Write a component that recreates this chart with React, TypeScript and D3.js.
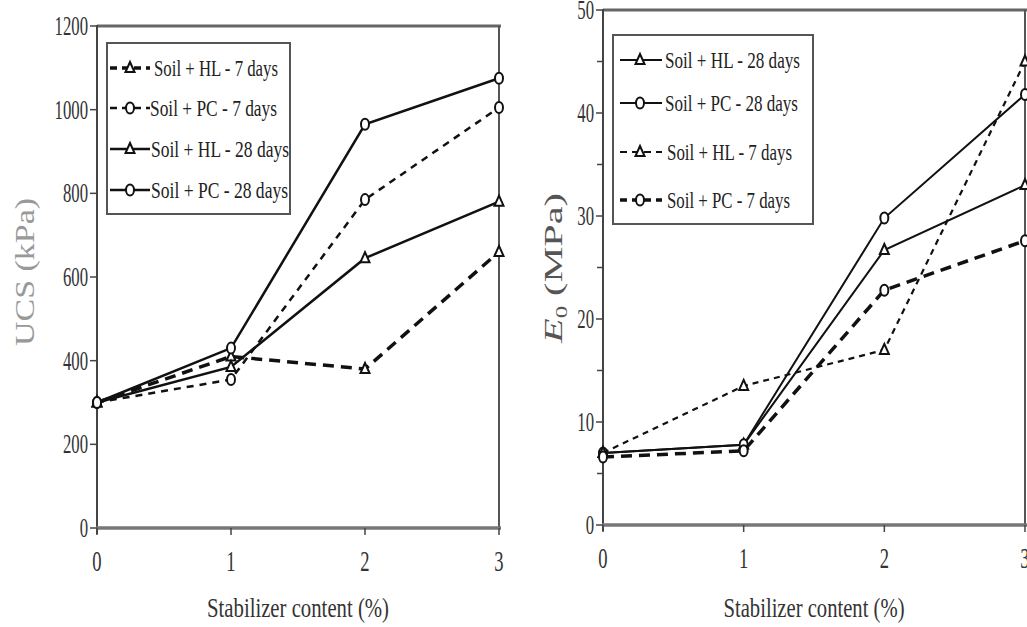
import React from 'react';
import * as d3 from 'd3';

const stabilizer = [0, 1, 2, 3];
const xTicks = [0, 1, 2, 3];

const ucsHL7 = [300, 410, 380, 660];
const ucsPC7 = [300, 355, 785, 1005];
const ucsHL28 = [300, 385, 645, 780];
const ucsPC28 = [300, 430, 965, 1075];
const ucsTicks = [0, 200, 400, 600, 800, 1000, 1200];

const e0HL28 = [7.0, 7.8, 26.7, 33.0];
const e0PC28 = [7.0, 7.8, 29.8, 41.8];
const e0HL7 = [7.0, 13.5, 17.0, 45.0];
const e0PC7 = [6.6, 7.2, 22.8, 27.6];
const e0Ticks = [0, 10, 20, 30, 40, 50];
const e0Minor = [5, 15, 25, 35, 45];

const leftNames = ['Soil + HL - 7 days', 'Soil + PC - 7 days', 'Soil + HL - 28 days', 'Soil + PC - 28 days'];
const rightNames = ['Soil + HL - 28 days', 'Soil + PC - 28 days', 'Soil + HL - 7 days', 'Soil + PC - 7 days'];

type Marker = 'tri' | 'circ';
interface Series { name: string; values: number[]; marker: Marker; dash: string; width: number; }

const FONT = '"Liberation Serif", "DejaVu Serif", serif';
const INK = '#111';
const SX = 0.62;

function MarkerShape({ x, y, m, size = 1 }: { x: number; y: number; m: Marker; size?: number }) {
  if (m === 'circ') {
    return <ellipse cx={x} cy={y} rx={4 * size} ry={5.5 * size} fill="#fff" stroke={INK} strokeWidth={2} />;
  }
  const h = 10 * size, w = 9 * size;
  const p = `M${x},${y - h * 0.6} L${x + w / 2},${y + h * 0.4} L${x - w / 2},${y + h * 0.4} Z`;
  return <path d={p} fill="#fff" stroke={INK} strokeWidth={2} />;
}

function CondText({ x, y, anchor, size, children }: { x: number; y: number; anchor: string; size: number; children: React.ReactNode }) {
  return (
    <g transform={`translate(${x},${y}) scale(${SX},1)`}>
      <text x={0} y={0} textAnchor={anchor} fontFamily={FONT} fontSize={size} fill="#333">{children}</text>
    </g>
  );
}

interface PanelProps {
  xRange: [number, number];
  yDomain: [number, number];
  yRange: [number, number];
  ticks: number[];
  minor: number[];
  series: Series[];
  legendBox: { x: number; y: number; w: number; h: number };
  legendRows: number[];
  legendSample: [number, number, number];
  legendText: { x: number; len: number }[];
  yLabel: React.ReactNode;
  yLabelPos: [number, number];
  xLabelLen: number;
}

function Panel(p: PanelProps) {
  const x = d3.scaleLinear().domain([0, 3]).range(p.xRange);
  const y = d3.scaleLinear().domain(p.yDomain).range(p.yRange);
  const line = d3.line<number>().x((_, i) => x(stabilizer[i])).y((d) => y(d));
  const [x0, x1] = p.xRange;
  const [yb, yt] = p.yRange;
  return (
    <g>
      {/* frame */}
      <line x1={x0} x2={x1 + 2} y1={yt} y2={yt} stroke="#666" strokeWidth={3} />
      <line x1={x1} x2={x1} y1={yt} y2={yb} stroke="#555" strokeWidth={2} />
      <line x1={x0} x2={x0} y1={yt - 1} y2={yb + 6} stroke="#444" strokeWidth={2} />
      <line x1={x0 - 1} x2={x1 + 2} y1={yb} y2={yb} stroke="#777" strokeWidth={3.5} />
      {p.ticks.map((t) => (
        <g key={'t' + t}>
          <line x1={x0 - 7} x2={x0} y1={y(t)} y2={y(t)} stroke="#444" strokeWidth={1.5} />
          <CondText x={x0 - 9} y={y(t) + 9} anchor="end" size={27}>{t}</CondText>
        </g>
      ))}
      {p.minor.map((t) => (
        <line key={'m' + t} x1={x0 - 6} x2={x0} y1={y(t)} y2={y(t)} stroke="#444" strokeWidth={1.5} />
      ))}
      {xTicks.map((t) => (
        <g key={'x' + t}>
          <line x1={x(t)} x2={x(t)} y1={yb} y2={yb + 7} stroke="#444" strokeWidth={1.5} />
          <CondText x={x(t)} y={yb + 43} anchor="middle" size={30}>{t}</CondText>
        </g>
      ))}
      {/* series */}
      {p.series.map((s) => (
        <g key={s.name}>
          <path d={line(s.values) || ''} fill="none" stroke={INK} strokeWidth={s.width} strokeDasharray={s.dash} />
          {s.values.map((v, i) => (
            <MarkerShape key={i} x={x(stabilizer[i])} y={y(v)} m={s.marker} />
          ))}
        </g>
      ))}
      {/* legend */}
      <rect x={p.legendBox.x} y={p.legendBox.y} width={p.legendBox.w} height={p.legendBox.h} fill="#fff" stroke="#555" strokeWidth={2} />
      {p.series.map((s, i) => {
        const ly = p.legendRows[i];
        const [a, b, c] = p.legendSample;
        return (
          <g key={'l' + s.name}>
            <line x1={a} x2={c} y1={ly} y2={ly} stroke={INK} strokeWidth={s.width} strokeDasharray={s.dash ? '7,5' : ''} />
            <MarkerShape x={b} y={ly} m={s.marker} />
            <text x={p.legendText[i].x} y={ly + 8} fontFamily={FONT} fontSize={24} fill="#222"
              textLength={p.legendText[i].len} lengthAdjust="spacingAndGlyphs">{s.name}</text>
          </g>
        );
      })}
      {/* labels */}
      <text x={(x0 + x1) / 2} y={617} textAnchor="middle" fontFamily={FONT} fontSize={28} fill="#333"
        textLength={p.xLabelLen} lengthAdjust="spacingAndGlyphs">Stabilizer content (%)</text>
      <g transform={`translate(${p.yLabelPos[0]},${p.yLabelPos[1]}) rotate(-90)`}>{p.yLabel}</g>
    </g>
  );
}

export default function App() {
  const leftSeries: Series[] = [
    { name: leftNames[0], values: ucsHL7, marker: 'tri', dash: '11,7', width: 3.5 },
    { name: leftNames[1], values: ucsPC7, marker: 'circ', dash: '7,6', width: 2.5 },
    { name: leftNames[2], values: ucsHL28, marker: 'tri', dash: '', width: 2.5 },
    { name: leftNames[3], values: ucsPC28, marker: 'circ', dash: '', width: 2.5 },
  ];
  const rightSeries: Series[] = [
    { name: rightNames[0], values: e0HL28, marker: 'tri', dash: '', width: 2 },
    { name: rightNames[1], values: e0PC28, marker: 'circ', dash: '', width: 2 },
    { name: rightNames[2], values: e0HL7, marker: 'tri', dash: '6,5', width: 2.2 },
    { name: rightNames[3], values: e0PC7, marker: 'circ', dash: '11,7', width: 3.5 },
  ];
  return (
    <svg width={1027} height={627} style={{ position: 'absolute', left: 0, top: 0, background: '#fff' }}>
      <rect width={1027} height={627} fill="#fff" />
      <Panel
        xRange={[97, 499]} yDomain={[0, 1200]} yRange={[528, 26]} ticks={ucsTicks} minor={[]}
        series={leftSeries}
        legendBox={{ x: 107, y: 43, w: 183, h: 171 }}
        legendRows={[68, 108, 149, 190]}
        legendSample={[110, 130, 150]}
        legendText={[{ x: 154, len: 124 }, { x: 150, len: 127 }, { x: 151, len: 138 }, { x: 151, len: 137 }]}
        yLabel={<text textAnchor="middle" fontFamily={FONT} fontSize={27} fill="#999" textLength={148} lengthAdjust="spacingAndGlyphs">UCS (kPa)</text>}
        yLabelPos={[34, 272]}
        xLabelLen={182}
      />
      <Panel
        xRange={[603, 1025]} yDomain={[0, 50]} yRange={[525, 10]} ticks={e0Ticks} minor={e0Minor}
        series={rightSeries}
        legendBox={{ x: 613, y: 35, w: 200, h: 189 }}
        legendRows={[60, 103, 152, 200]}
        legendSample={[620, 640, 662]}
        legendText={[{ x: 665, len: 135 }, { x: 665, len: 133 }, { x: 667, len: 125 }, { x: 667, len: 123 }]}
        yLabel={
          <text textAnchor="middle" fontFamily={FONT} fontSize={26} fill="#555" textLength={150} lengthAdjust="spacingAndGlyphs">
            <tspan fontStyle="italic">E</tspan>
            <tspan fontSize={16} dy={5}>0</tspan>
            <tspan dy={-5}> (MPa)</tspan>
          </text>
        }
        yLabelPos={[562, 268]}
        xLabelLen={181}
      />
    </svg>
  );
}
